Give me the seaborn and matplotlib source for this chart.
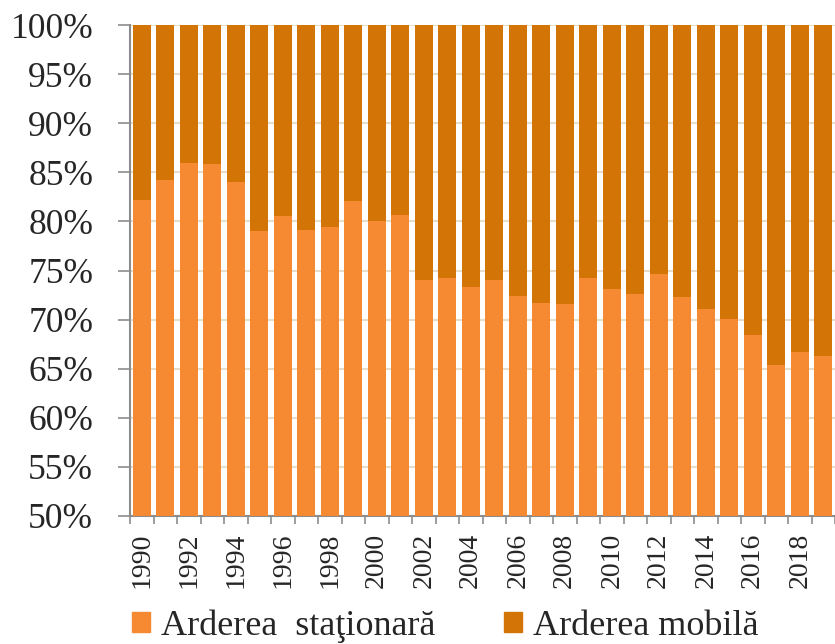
import numpy as np
import pandas as pd
import matplotlib
matplotlib.use('Agg')
import matplotlib.pyplot as plt
import seaborn as sns
from matplotlib.patches import Patch
from matplotlib.ticker import FuncFormatter, FixedLocator

years = list(range(1990, 2020))
stationara = [82.2, 84.2, 85.9, 85.8, 84.0, 79.0, 80.6, 79.1, 79.4, 82.1,
              80.0, 80.7, 74.0, 74.2, 73.3, 74.0, 72.4, 71.7, 71.6, 74.2,
              73.1, 72.6, 74.6, 72.3, 71.1, 70.1, 68.4, 65.4, 66.7, 66.3]
total = [100.0] * len(years)
labels = ['Arderea  staţionară', 'Arderea mobilă']

col_stat = '#F68A33'
col_mob = '#D37506'

df = pd.DataFrame({'an': [str(a) for a in years], 'stationara': stationara, 'total': total})

sns.set_style('white')
plt.rcParams['font.family'] = ['Liberation Serif', 'DejaVu Serif']

fig = plt.figure(figsize=(8.35, 6.44), dpi=100)
ax = fig.add_axes([130 / 835, 1 - 516 / 644, 705 / 835, 491 / 644])

sns.barplot(data=df, x='an', y='total', color=col_mob, width=0.77, saturation=1,
            linewidth=0, ax=ax, zorder=2)
sns.barplot(data=df, x='an', y='stationara', color=col_stat, width=0.77, saturation=1,
            linewidth=0, ax=ax, zorder=3)

ax.set_ylim(50, 100)
ax.set_xlim(-0.5, len(years) - 0.5)
ax.set_yticks(np.arange(50, 101, 5))
ax.yaxis.set_major_formatter(FuncFormatter(lambda v, p: f'{v:.0f}%'))
ax.yaxis.grid(True, color='#E6DDCB', linewidth=1.5, zorder=0)
ax.set_axisbelow(True)

ax.set_xticks(range(0, len(years), 2))
ax.set_xticklabels([str(a) for a in years[::2]], rotation=90)
ax.xaxis.set_minor_locator(FixedLocator(np.arange(-0.5, len(years), 1)))
ax.tick_params(axis='x', which='major', length=0, pad=12, labelsize=20)
ax.tick_params(axis='x', which='minor', length=5.5, color='#8C8C8C', width=1.2, direction='out', bottom=True)
ax.tick_params(axis='y', length=8.5, color='#8C8C8C', width=1.2, direction='out', left=True,
               labelsize=25.5, pad=18)

ax.set_xlabel('')
ax.set_ylabel('')
for s in ['top', 'right']:
    ax.spines[s].set_visible(False)
for s in ['left', 'bottom']:
    ax.spines[s].set_color('#8C8C8C')
    ax.spines[s].set_linewidth(1.5)

handles = [Patch(color=col_stat), Patch(color=col_mob)]
fig.legend(handles, labels, loc='center', bbox_to_anchor=(445 / 835, 1 - 626 / 644), ncol=2, frameon=False,
           fontsize=26, handlelength=0.5, handleheight=0.5, handletextpad=0.3, columnspacing=1.9,
           borderpad=0)

fig.savefig('out.png', dpi=100)
